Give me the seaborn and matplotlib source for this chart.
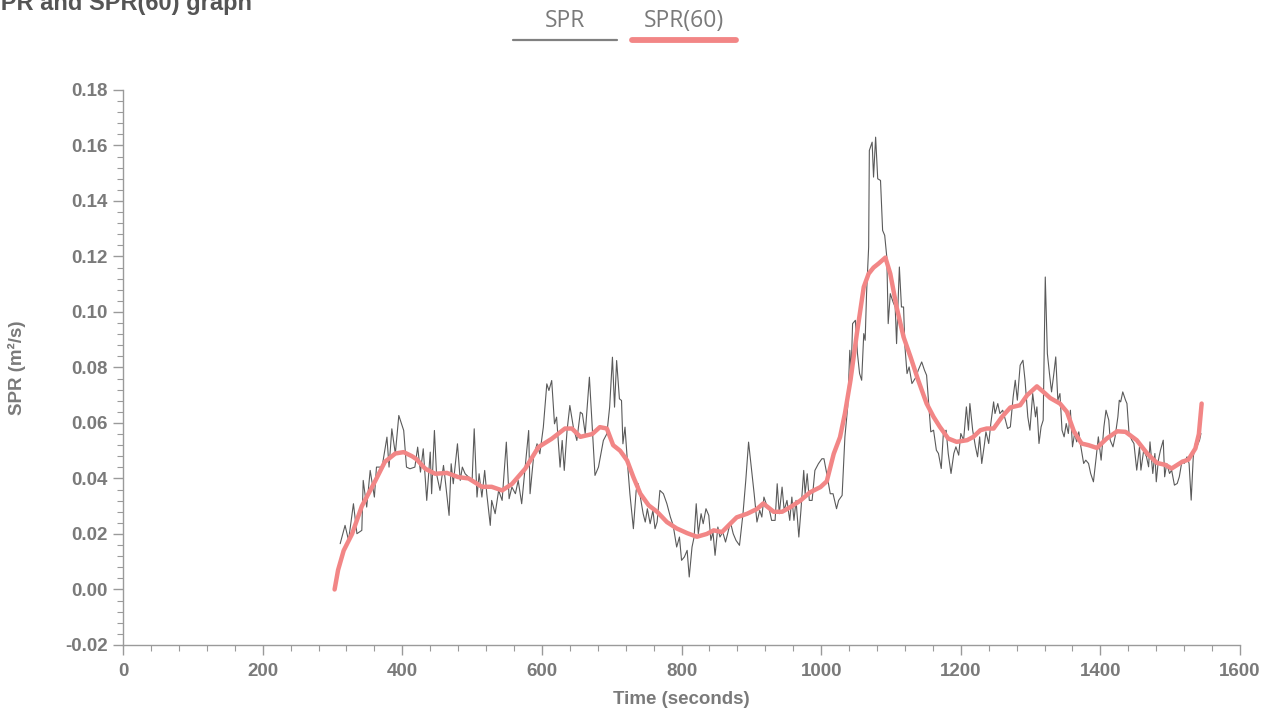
import pandas as pd
import seaborn as sns
import matplotlib.pyplot as plt
from matplotlib.lines import Line2D
from matplotlib.ticker import MultipleLocator, FormatStrFormatter

# SPR raw samples (time in seconds, value in m2/s)
spr_time = [
    311, 318, 323, 330, 335, 342, 344, 349, 354, 360, 363, 371, 378, 381, 385, 390,
    395, 402, 406, 411, 418, 422, 426, 430, 435, 440, 442, 446, 449, 454, 459, 461,
    467, 470, 473, 479, 483, 486, 490, 495, 500, 503, 507, 510, 514, 518, 521, 526,
    528, 533, 538, 543, 549, 553, 557, 562, 566, 571, 576, 581, 583, 588, 593, 597,
    602, 607, 610, 614, 618, 621, 626, 629, 632, 636, 640, 645, 650, 655, 658, 662,
    668, 672, 676, 681, 688, 693, 697, 701, 704, 707, 711, 714, 716, 719, 723, 726,
    731, 735, 738, 741, 745, 748, 751, 755, 759, 762, 765, 769, 774, 779, 784, 788,
    793, 797, 800, 804, 808, 811, 815, 818, 821, 824, 828, 831, 835, 839, 842, 845,
    848, 852, 855, 859, 863, 866, 870, 874, 878, 883, 888, 892, 896, 901, 904, 908,
    912, 915, 918, 922, 926, 929, 934, 937, 940, 944, 947, 951, 955, 958, 961, 964,
    968, 971, 975, 977, 980, 983, 987, 991, 996, 1001, 1004, 1008, 1013, 1017, 1022, 1025,
    1030, 1034, 1038, 1041, 1043, 1045, 1049, 1052, 1055, 1058, 1061, 1063, 1065, 1068, 1069, 1073,
    1075, 1078, 1081, 1085, 1088, 1091, 1094, 1096, 1099, 1103, 1106, 1108, 1112, 1115, 1118, 1120,
    1123, 1126, 1130, 1133, 1136, 1139, 1144, 1148, 1151, 1154, 1157, 1161, 1165, 1168, 1172, 1175,
    1179, 1182, 1186, 1190, 1193, 1197, 1200, 1204, 1208, 1211, 1213, 1217, 1221, 1224, 1227, 1230,
    1234, 1236, 1240, 1243, 1247, 1249, 1253, 1256, 1260, 1264, 1267, 1271, 1275, 1278, 1281, 1285,
    1289, 1292, 1296, 1299, 1303, 1307, 1309, 1312, 1315, 1318, 1321, 1324, 1327, 1330, 1333, 1336,
    1339, 1342, 1345, 1348, 1351, 1354, 1357, 1360, 1363, 1366, 1369, 1372, 1376, 1379, 1383, 1386,
    1390, 1394, 1397, 1401, 1405, 1408, 1412, 1414, 1418, 1421, 1425, 1427, 1429, 1432, 1436, 1438,
    1441, 1445, 1448, 1452, 1456, 1458, 1462, 1466, 1469, 1471, 1475, 1478, 1480, 1483, 1486, 1490,
    1492, 1495, 1499, 1502, 1506, 1510, 1513, 1517, 1520, 1524, 1527, 1530, 1533, 1536, 1538, 1542,
    1544,
]
spr_value = [
    0.0165, 0.0231, 0.0177, 0.0309, 0.0201, 0.0213, 0.0393, 0.0297, 0.0429, 0.0333, 0.0441, 0.0441, 0.0549, 0.0441, 0.0579, 0.0489,
    0.0627, 0.0573, 0.0441, 0.0435, 0.0441, 0.0513, 0.0423, 0.0507, 0.0321, 0.0495, 0.0345, 0.0573, 0.0417, 0.0357, 0.0447, 0.0405,
    0.0267, 0.0453, 0.0381, 0.0525, 0.0393, 0.0441, 0.0417, 0.0405, 0.0393, 0.0579, 0.0333, 0.0417, 0.0333, 0.0429, 0.0345, 0.0231,
    0.0321, 0.0273, 0.0357, 0.0321, 0.0531, 0.0327, 0.0369, 0.0345, 0.0393, 0.0309, 0.0441, 0.0573, 0.0345, 0.0477, 0.0525, 0.0489,
    0.0585, 0.0741, 0.0717, 0.0753, 0.0597, 0.0621, 0.0441, 0.0537, 0.0429, 0.0573, 0.0663, 0.0585, 0.0537, 0.0639, 0.0633, 0.0561,
    0.0765, 0.0585, 0.0411, 0.0441, 0.0537, 0.0561, 0.0657, 0.0837, 0.0657, 0.0825, 0.0687, 0.0681, 0.0525, 0.0585, 0.0441, 0.0345,
    0.0219, 0.0357, 0.0381, 0.0333, 0.0273, 0.0243, 0.0291, 0.0237, 0.0285, 0.0219, 0.0243, 0.0357, 0.0345, 0.0309, 0.0261, 0.0231,
    0.0153, 0.0189, 0.0105, 0.0117, 0.0141, 0.0045, 0.0153, 0.0189, 0.0309, 0.0201, 0.0273, 0.0237, 0.0291, 0.0267, 0.0177, 0.0207,
    0.0123, 0.0225, 0.0189, 0.0207, 0.0171, 0.0201, 0.0243, 0.0201, 0.0177, 0.0159, 0.0273, 0.0393, 0.0531, 0.0417, 0.0345, 0.0243,
    0.0285, 0.0261, 0.0333, 0.0303, 0.0285, 0.0249, 0.0249, 0.0381, 0.0273, 0.0369, 0.0285, 0.0321, 0.0249, 0.0333, 0.0249, 0.0321,
    0.0189, 0.0285, 0.0429, 0.0345, 0.0417, 0.0321, 0.0321, 0.0429, 0.0453, 0.0471, 0.0471, 0.0417, 0.0345, 0.0345, 0.0291, 0.0321,
    0.0339, 0.0550, 0.0658, 0.0862, 0.0790, 0.0958, 0.0970, 0.0850, 0.0778, 0.0754, 0.0922, 0.0898, 0.1066, 0.1234, 0.1582, 0.1612,
    0.1486, 0.1630, 0.1480, 0.1474, 0.1294, 0.1276, 0.1198, 0.0958, 0.1066, 0.1036, 0.1018, 0.0886, 0.1162, 0.1018, 0.1018, 0.0874,
    0.0778, 0.0802, 0.0742, 0.0754, 0.0766, 0.0790, 0.0820, 0.0790, 0.0772, 0.0670, 0.0568, 0.0574, 0.0502, 0.0490, 0.0436, 0.0562,
    0.0574, 0.0490, 0.0418, 0.0490, 0.0514, 0.0484, 0.0562, 0.0538, 0.0658, 0.0574, 0.0670, 0.0574, 0.0514, 0.0478, 0.0550, 0.0454,
    0.0526, 0.0568, 0.0526, 0.0598, 0.0676, 0.0634, 0.0670, 0.0634, 0.0646, 0.0610, 0.0580, 0.0586, 0.0694, 0.0754, 0.0682, 0.0808,
    0.0826, 0.0754, 0.0622, 0.0574, 0.0706, 0.0622, 0.0658, 0.0526, 0.0586, 0.0610, 0.1126, 0.0850, 0.0778, 0.0712, 0.0772, 0.0838,
    0.0682, 0.0706, 0.0574, 0.0550, 0.0598, 0.0562, 0.0646, 0.0514, 0.0562, 0.0532, 0.0568, 0.0514, 0.0454, 0.0466, 0.0454, 0.0418,
    0.0388, 0.0478, 0.0550, 0.0466, 0.0586, 0.0646, 0.0610, 0.0538, 0.0514, 0.0550, 0.0622, 0.0682, 0.0676, 0.0712, 0.0682, 0.0670,
    0.0562, 0.0538, 0.0526, 0.0430, 0.0514, 0.0430, 0.0502, 0.0478, 0.0442, 0.0532, 0.0418, 0.0490, 0.0388, 0.0466, 0.0502, 0.0538,
    0.0406, 0.0454, 0.0418, 0.0430, 0.0376, 0.0382, 0.0406, 0.0466, 0.0454, 0.0478, 0.0454, 0.0322, 0.0478, 0.0526, 0.0514, 0.0538,
    0.0562,
]

# SPR(60) smoothed curve
spr60_time = [
    303, 308, 316, 328, 342, 361, 375, 390, 402, 414, 420, 433, 447, 464, 480, 495,
    514, 528, 543, 557, 576, 595, 614, 633, 643, 655, 672, 683, 693, 702, 712, 722,
    731, 741, 753, 765, 779, 793, 808, 822, 836, 846, 858, 867, 879, 894, 908, 917,
    932, 944, 956, 970, 984, 999, 1008, 1018, 1027, 1034, 1042, 1051, 1061, 1068, 1075, 1082,
    1092, 1099, 1108, 1118, 1128, 1139, 1151, 1161, 1170, 1182, 1194, 1209, 1218, 1228, 1237, 1247,
    1259, 1271, 1285, 1295, 1309, 1321, 1328, 1342, 1352, 1362, 1373, 1383, 1395, 1409, 1424, 1436,
    1452, 1467, 1481, 1493, 1502, 1517, 1526, 1536, 1541, 1545,
]
spr60_value = [
    0.0000, 0.0070, 0.0140, 0.0200, 0.0300, 0.0390, 0.0460, 0.0490, 0.0495, 0.0480, 0.0470, 0.0435, 0.0417, 0.0420, 0.0405, 0.0400,
    0.0370, 0.0370, 0.0357, 0.0380, 0.0435, 0.0513, 0.0543, 0.0580, 0.0580, 0.0550, 0.0560, 0.0585, 0.0580, 0.0520, 0.0500, 0.0465,
    0.0405, 0.0345, 0.0303, 0.0280, 0.0243, 0.0220, 0.0203, 0.0190, 0.0200, 0.0213, 0.0207, 0.0230, 0.0260, 0.0273, 0.0290, 0.0310,
    0.0280, 0.0280, 0.0297, 0.0320, 0.0350, 0.0369, 0.0390, 0.0489, 0.0549, 0.0634, 0.0754, 0.0920, 0.1090, 0.1138, 0.1160, 0.1174,
    0.1196, 0.1138, 0.1018, 0.0910, 0.0838, 0.0754, 0.0670, 0.0622, 0.0586, 0.0544, 0.0532, 0.0538, 0.0550, 0.0574, 0.0580, 0.0580,
    0.0622, 0.0656, 0.0664, 0.0700, 0.0732, 0.0706, 0.0690, 0.0670, 0.0640, 0.0570, 0.0526, 0.0520, 0.0510, 0.0544, 0.0570, 0.0568,
    0.0538, 0.0490, 0.0456, 0.0449, 0.0436, 0.0460, 0.0468, 0.0508, 0.0560, 0.0670,
]

GRAY_TEXT = "#7a7a7a"
SPR_COLOR = "#5a5a5a"
SPR60_COLOR = "#f28686"

spr_df = pd.DataFrame({"time": spr_time, "spr": spr_value})
spr60_df = pd.DataFrame({"time": spr60_time, "spr": spr60_value})

sns.set_theme(style="white")
plt.rcParams["font.family"] = ["Liberation Sans", "DejaVu Sans"]

fig = plt.figure(figsize=(12.66, 7.09), dpi=100)
ax = fig.add_axes([0.0972, 0.0903, 0.8823, 0.7828])

sns.lineplot(data=spr_df, x="time", y="spr", ax=ax, color=SPR_COLOR,
             linewidth=0.8, estimator=None, sort=False)
sns.lineplot(data=spr60_df, x="time", y="spr", ax=ax, color=SPR60_COLOR,
             linewidth=3.2, estimator=None, sort=False, solid_capstyle="round")

ax.set_xlim(0, 1600)
ax.set_ylim(-0.02, 0.18)
ax.xaxis.set_major_locator(MultipleLocator(200))
ax.xaxis.set_minor_locator(MultipleLocator(40))
ax.yaxis.set_major_locator(MultipleLocator(0.02))
ax.yaxis.set_minor_locator(MultipleLocator(0.004))
ax.yaxis.set_major_formatter(FormatStrFormatter("%.2f"))

for side in ["top", "right"]:
    ax.spines[side].set_visible(False)
for side in ["left", "bottom"]:
    ax.spines[side].set_color("#9a9a9a")
    ax.spines[side].set_linewidth(1.0)

ax.tick_params(which="major", direction="out", length=7, width=1, color="#9a9a9a",
               labelcolor=GRAY_TEXT, labelsize=13.5)
ax.tick_params(which="minor", direction="out", length=4, width=0.8, color="#9a9a9a")
ax.tick_params(axis="x", which="both", bottom=True, pad=6)
ax.tick_params(axis="y", which="both", left=True, pad=4)
for lab in ax.get_xticklabels() + ax.get_yticklabels():
    lab.set_fontweight("bold")

ax.set_xlabel("Time (seconds)", fontsize=13.5, fontweight="bold", color=GRAY_TEXT, labelpad=8)
ax.set_ylabel("SPR (m²/s)", fontsize=13.5, fontweight="bold", color=GRAY_TEXT, labelpad=28)

# title, partly cut at top-left like the original
fig.text(-0.012, 1 - 10 / 709, "SPR and SPR(60) graph", fontsize=17, fontweight="bold",
         color="#555555", ha="left", va="baseline")

# legend: label above a line sample
legend_items = [("SPR", "#808080", 1.6, 565), ("SPR(60)", SPR60_COLOR, 4.2, 684)]
for label, col, lw, cx in legend_items:
    fig.text(cx / 1266, 1 - 21 / 709, label, fontsize=16.5, color=GRAY_TEXT,
             family=["Open Sans", "DejaVu Sans"], ha="center", va="center")
    fig.add_artist(Line2D([(cx - 52) / 1266, (cx + 52) / 1266],
                          [1 - 40 / 709, 1 - 40 / 709],
                          color=col, linewidth=lw, transform=fig.transFigure))

fig.savefig("out.png", dpi=100)
